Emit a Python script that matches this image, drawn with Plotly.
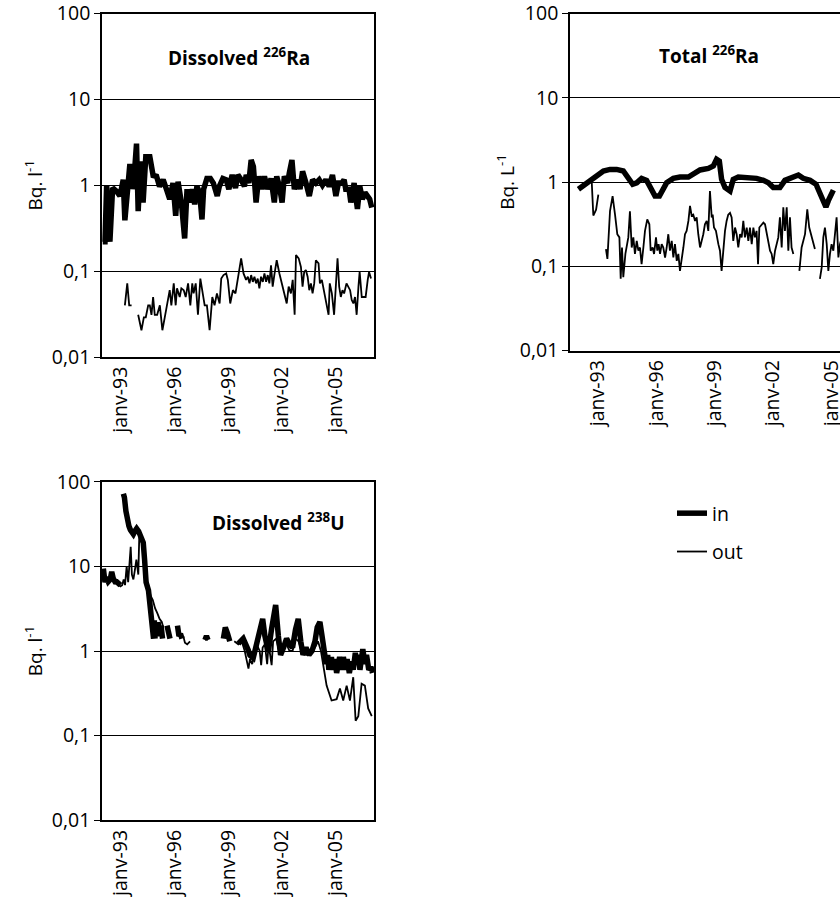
import plotly.graph_objects as go

# ---------------- data (x = months since janv-92) ----------------
TICK_LABELS = ["janv-93", "janv-96", "janv-99", "janv-02", "janv-05"]
LABEL_MONTHS = [12, 48, 84, 120, 156]
Y_TICKS = [0.01, 0.1, 1, 10, 100]
Y_TEXT = ["0,01", "0,1", "1", "10", "100"]

# Dissolved 226Ra
RA_D_IN_M = [0, 1.5, 2.6, 4.8, 6.6, 9.3, 11.5, 12.6, 13.7, 14.8,
             17, 18, 19.5, 20.4, 22.6, 23.7, 25.3, 27, 28.8, 31.5,
             33.7, 36, 38, 40.4, 42.6, 44.8, 47, 48.8, 50.4, 52.6,
             54.8, 56.4, 58.2, 60, 61.5, 63, 64.8, 66.4, 67.5, 69.7,
             72, 74, 76.6, 78, 80.4, 82.6, 84.4, 86.6, 88.8, 90.4,
             92.6, 94.8, 96, 97.7, 99.3, 100.8, 102.6, 104.4, 106.6, 108.2,
             110.4, 112.6, 114.8, 116.4, 118.2, 120, 121.5, 123.7, 124.8, 126.6,
             128.2, 130.4, 132, 133.7, 136, 138.2, 140.4, 142.6, 144.8, 147,
             149.3, 151.5, 153.7, 156, 157.7, 160, 161.5, 162.6, 164.8, 166,
             168.2, 170.4, 172, 173.7, 175.5, 177, 178.6, 180]
RA_D_IN_V = [0.22, 0.22, 1.0, 0.22, 0.93, 0.85, 0.75, 0.97, 1.16, 0.39,
             0.9, 1.65, 1.65, 0.9, 3.05, 0.5, 1.9, 0.63, 2.15, 2.15,
             1.3, 1.27, 0.97, 1.16, 0.9, 0.69, 1.06, 0.44, 1.1, 0.63,
             0.24, 0.9, 0.63, 0.9, 0.6, 0.97, 0.82, 0.4, 0.9, 1.2,
             1.2, 1.06, 0.75, 0.97, 1.2, 1.16, 0.9, 1.32, 0.93, 1.32,
             1.16, 0.97, 1.32, 1.06, 1.97, 1.65, 0.63, 1.27, 0.9, 1.27,
             0.9, 1.2, 0.63, 1.27, 0.97, 0.63, 1.27, 1.06, 1.38, 1.97,
             0.9, 1.16, 0.9, 1.45, 1.06, 0.75, 1.16, 1.06, 1.16, 1.0,
             1.16, 0.97, 1.32, 0.75, 1.06, 1.06, 1.16, 0.9, 0.9, 0.63,
             1.06, 0.53, 0.97, 0.69, 0.82, 0.75, 0.69, 0.55]

RA_D_OUT_M = [14.8, 16.4, 17.7, 19.3, None,
              23.7, 25.9, 27.5, 28.8, 30.4, 31.5, 32.6, 33.7, 34.8, 36.4,
              38.2, 39.9, 41.5, 43.1, 44.8, 45.9, 47.5, 48.8, 49.7, 51.5,
              52.6, 54.2, 55.5, 57.1, 58.6, 59.9, 60.8, 62.2, 63.7, 65.3,
              66.6, 68.2, 69.7, 71.5, 73.3, 74.8, 76.4, 78.2, 79.3, 80.8,
              82.6, 83.7, 85.3, 87.1, 88.8, 90.4, 91.5, 92.6, 94.2, 95.9,
              97.1, 98.2, 99.3, 100.4, 101.5, 102.6, 103.7, 104.8, 105.9, 107.1,
              108.2, 109.3, 110.4, 111.5, 112.6, 113.7, 114.8, 116.4, 118.2, 119.9,
              121.5, 123.1, 124.4, 125.9, 127.1, 128.4, 129.3, 131.1, 132.6, 133.7,
              134.8, 135.9, 137.1, 138.2, 139.3, 140.4, 141.5, 142.6, 144.4, 145.3,
              146.6, 148.2, 149.7, 151.1, 151.9, 153.3, 154.8, 155.9, 157.1, 158.2,
              159.3, 160.4, 161.5, 163.1, 164.4, 165.5, 166.6, 167.7, 168.8, 169.9,
              171.1, 171.9, 173.3, 174.8, 175.9, 177.3, 178.2, 179.5]
RA_D_OUT_V = [0.040, 0.072, 0.040, 0.040, None,
              0.031, 0.0205, 0.029, 0.029, 0.040, 0.040, 0.031, 0.050, 0.031, 0.031,
              0.040, 0.0205, 0.029, 0.040, 0.060, 0.040, 0.072, 0.040, 0.063, 0.050,
              0.063, 0.060, 0.050, 0.072, 0.040, 0.072, 0.055, 0.072, 0.031, 0.082,
              0.060, 0.040, 0.040, 0.0205, 0.050, 0.040, 0.055, 0.042, 0.082, 0.090,
              0.094, 0.079, 0.042, 0.060, 0.055, 0.086, 0.103, 0.141, 0.094, 0.079,
              0.086, 0.072, 0.090, 0.075, 0.086, 0.072, 0.082, 0.063, 0.086, 0.075,
              0.094, 0.075, 0.090, 0.072, 0.117, 0.066, 0.090, 0.134, 0.094, 0.072,
              0.052, 0.042, 0.066, 0.055, 0.079, 0.031, 0.154, 0.141, 0.112, 0.066,
              0.098, 0.103, 0.086, 0.060, 0.072, 0.055, 0.072, 0.134, 0.123, 0.072,
              0.079, 0.055, 0.040, 0.031, 0.072, 0.055, 0.031, 0.072, 0.141, 0.066,
              0.050, 0.060, 0.055, 0.072, 0.066, 0.060, 0.046, 0.042, 0.050, 0.031,
              0.066, 0.098, 0.050, 0.050, 0.050, 0.079, 0.098, 0.082]

# Total 226Ra
RA_T_IN_M = [-0.1, 4.0, 8.1, 11.2, 15.3, 19.4, 23.5, 27.6, 30.7, 33.4,
             35.9, 38.9, 42.0, 45.1, 47.2, 49.9, 52.3, 54.4, 58.5, 62.6,
             67.8, 70.8, 75.0, 80.1, 83.2, 85.2, 86.9, 88.3, 90.4, 93.5,
             95.5, 98.6, 103.8, 109.9, 114.1, 117.2, 120.2, 124.3, 127.4, 131.5,
             135.7, 138.7, 142.9, 146.6, 149.0, 151.1, 152.7, 154.2, 155.6, 157.3]
RA_T_IN_V = [0.82, 0.94, 1.075, 1.23, 1.35, 1.41, 1.41, 1.35, 1.125, 0.94,
             0.98, 1.105, 1.046, 0.82, 0.68, 0.68, 0.82, 0.98, 1.105, 1.146,
             1.146, 1.25, 1.39, 1.45, 1.55, 1.86, 1.77, 1.075, 0.86, 0.78,
             1.075, 1.146, 1.146, 1.105, 1.046, 0.98, 0.86, 0.86, 1.046, 1.125,
             1.21, 1.105, 1.046, 0.94, 0.71, 0.60, 0.505, 0.60, 0.71, 0.80]

RA_T_OUT_M = [8.1, 9.1, 10.8, 12.2, None,
              16.9, 17.8, 19.4, 21.0, 22.5, 23.9, 25.2, 26.0, 26.8, 27.6,
              28.9, 29.7, 30.7, 31.7, 32.8, 33.8, 34.8, 35.9, 36.9, 37.9,
              38.9, 40.0, 41.0, 42.4, 43.7, 44.5, 45.7, 46.6, 47.8, 48.6,
              49.4, 50.3, 51.3, 52.3, 53.4, 54.4, 55.4, 56.4, 57.5, 58.5,
              59.5, 60.6, 61.6, 62.6, 63.6, 64.7, 65.7, 66.7, 67.8, 68.8,
              69.8, 70.8, 71.9, 72.9, 73.9, 75.0, 76.0, 77.0, 78.0, 79.1,
              80.1, 81.1, 82.2, 82.8, 83.6, 84.8, 86.3, 87.3, 88.3, 89.4,
              90.4, 91.4, 92.4, 93.5, 94.5, 95.5, 96.6, 97.6, 98.6, 99.7,
              100.7, 101.7, 102.7, 103.8, 104.8, 105.8, 106.9, 107.9, 108.9, 109.9,
              110.8, 111.6, 113.0, 114.1, 115.1, 116.1, 117.2, 118.2, 119.2, 120.2,
              121.3, 122.3, 123.3, 124.3, 125.4, 126.4, 127.4, 128.5, 129.5, 130.5,
              131.5, 132.6, None,
              136.3, 137.7, 139.8, 141.2, 142.4, 143.9, 144.9, 145.9, None,
              149.0, 150.1, 151.1, 152.1, 153.2, 154.2, 155.2, 156.2, 157.3, 158.3,
              159.3, 160.4, 161.4, 162.5]
RA_T_OUT_V = [1.03, 0.40, 0.47, 0.71, None,
              0.16, 0.122, 0.45, 0.68, 0.41, 0.24, 0.22, 0.071, 0.167, 0.074,
              0.14, 0.167, 0.22, 0.45, 0.167, 0.22, 0.14, 0.20, 0.153, 0.167,
              0.106, 0.167, 0.263, 0.36, 0.315, 0.153, 0.167, 0.14, 0.22, 0.153,
              0.183, 0.14, 0.183, 0.167, 0.127, 0.167, 0.24, 0.153, 0.20, 0.127,
              0.183, 0.116, 0.14, 0.088, 0.116, 0.167, 0.24, 0.263, 0.345, 0.52,
              0.40, 0.41, 0.345, 0.38, 0.24, 0.167, 0.20, 0.24, 0.315, 0.345,
              0.263, 0.78, 0.38, 0.41, 0.288, 0.263, 0.183, 0.153, 0.088, 0.167,
              0.263, 0.345, 0.41, 0.43, 0.38, 0.20, 0.288, 0.24, 0.167, 0.24,
              0.22, 0.345, 0.22, 0.288, 0.20, 0.288, 0.183, 0.288, 0.22, 0.263,
              0.106, 0.288, 0.315, 0.33, 0.315, 0.24, 0.183, 0.153, 0.14, 0.106,
              0.153, 0.183, 0.22, 0.38, 0.167, 0.50, 0.263, 0.50, 0.153, 0.38,
              0.167, 0.14, None,
              0.088, 0.167, 0.24, 0.475, 0.288, 0.22, 0.183, 0.16, None,
              0.071, 0.097, 0.22, 0.288, 0.183, 0.088, 0.14, 0.183, 0.153, 0.263,
              0.38, 0.127, 0.183, 0.22]

# Dissolved 238U
U_IN_M = [0.4, 1.5, 2.5, 3.7, 5, 6, 7, 8.2, 9.3, 10.5, 11.8, None,
          13.8, 14.5, 15.5, 16.5, 17.5, 18.5, 19.4, 20.5, 21.5, 22.7,
          24, 25.5, 27.1, 28, 29, 30.6, 31.5, 32.5, 33.5, 34, 34.5, 35, None,
          37, 38, 39, 40, None,
          43, 44, 45, None,
          50, 51, 52, 53, None,
          68.4, 69.4, 70.4, None,
          80.7, 82, 83.5, 85, None,
          90.7, 94, 97.4, 98.5, 100.7, 103, 105.2, 107, 108.5, 110.8,
          113, 115.7, 117.5, 119, 121, 123, 125, 127, 129, 130.8,
          132.5, 134, 136, 138, 140, 142, 143.5, 145.3, 146.5, 148,
          149.5, 150.5, 151.3, 153, 154, 155.3, 156.5, 158.5, 160, 161,
          162.5, 163.5, 165, 166.5, 167.6, 169, 170, 171, 172.1, 174,
          175.5, 176.5, 178, 179.5, 180.5]
U_IN_V = [9.4, 6.5, 7.5, 6.6, 7.0, 8.6, 7.2, 6.6, 6.6, 6.2, 6.0, None,
          72, 65, 45, 35, 30, 27, 25, 24, 26, 28,
          26, 22, 19, 12, 6.5, 5.2, 3.5, 2.5, 1.8, 1.4, 2.3, 1.4, None,
          2.2, 1.5, 2.0, 1.4, None,
          2.0, 1.5, 1.4, None,
          2.0, 1.5, 1.6, 1.4, None,
          1.35, 1.5, 1.35, None,
          1.4, 1.9, 1.6, 1.3, None,
          1.22, 1.4, 1.02, 0.89, 0.83, 1.25, 1.65, 2.4, 1.5, 0.98,
          1.84, 3.5, 1.5, 0.9, 1.1, 1.4, 1.2, 1.1, 1.8, 2.4,
          1.3, 0.9, 1.1, 0.9, 1.0, 1.3, 1.9, 2.2, 1.6, 1.1,
          0.7, 0.9, 0.6, 0.85, 0.6, 0.8, 0.55, 0.85, 0.6, 0.85,
          0.6, 0.8, 0.55, 0.75, 0.6, 0.95, 0.7, 0.9, 0.6, 1.05,
          0.7, 0.9, 0.6, 0.65, 0.55]

U_OUT_M = [0.4, 1.5, 2.5, 3.7, 5, 6, 7, 8.2, 9.3, 10.5,
           11.8, 13, 14, 14.9, 16, 17, 18.7, 19.5, 20.5, 21.5,
           22.5, 23.8, 24.5, 25.5, 27, 28.5, 29.5, 30.5, 32, 33.5,
           35, 36.5, 38, 39.5, 40.5, None,
           53.9, 55, 56.5, 58.4, None,
           88, 90.7, 93, 95, 96.5, 97.5, 98.5, 100, 101, 103,
           105, 106, 107, 108.5, 110, 111, 113, 114, 116, 118,
           120, 123, 125, 127, 129, 131, 133, 135, 137, 140,
           142, 144, 146, 147.5, 149.8, 153.1, 156.5, 158.7, 160.9, 163.2,
           165.4, 167.6, 169.2, 171, 173.2, 175.4, 177.6, 180]
U_OUT_V = [9.0, 6.8, 7.3, 6.4, 6.9, 8.3, 7.0, 6.3, 6.3, 6.0,
           5.8, 6.0, 7.0, 6.0, 10, 6.5, 17, 8, 7, 9,
           12, 8, 25, 22, 17, 10, 7, 6, 4.5, 4.0,
           3.2, 2.8, 2.4, 2.2, 1.9, None,
           1.5, 1.25, 1.2, 1.3, None,
           1.3, 1.2, 1.3, 1.0, 0.75, 0.62, 0.8, 0.7, 0.85, 1.2,
           1.0, 0.68, 1.1, 1.2, 0.7, 1.2, 0.68, 1.3, 1.4, 1.0,
           1.1, 1.2, 1.0, 1.0, 1.4, 1.3, 1.0, 1.0, 0.9, 1.1,
           1.1, 1.3, 1.0, 0.68, 0.39, 0.26, 0.27, 0.36, 0.26, 0.39,
           0.26, 0.49, 0.15, 0.17, 0.41, 0.39, 0.21, 0.17]

# ---------------- figure ----------------
W, H = 840, 914
FONT = "Open Sans, Noto Sans, Liberation Sans, sans-serif"
IN_W, OUT_W = 5.5, 1.8
TICK_FS = 19.5
TITLE_FS = 19


def px_x(p):
    return p / W


def px_y(p):
    return 1 - p / H


fig = go.Figure()

panels = [
    dict(x="x", y="y", xt="x4", in_m=RA_D_IN_M, in_v=RA_D_IN_V, out_m=RA_D_OUT_M, out_v=RA_D_OUT_V,
         dom_x=[px_x(102), px_x(374)], dom_y=[px_y(357), px_y(13.5)], rng=[-0.5, 181.5], tick0=-0.5, tstep=26,
         ytitle="Bq. l<sup>-1</sup>", mirror_y=True, legend=True, standoff=4),
    dict(x="x2", y="y2", xt="x5", in_m=RA_T_IN_M, in_v=RA_T_IN_V, out_m=RA_T_OUT_M, out_v=RA_T_OUT_V,
         dom_x=[px_x(570), 1.0], dom_y=[px_y(350.5), px_y(13.5)], rng=[-5.3, 161.4], tick0=-5.3, tstep=36,
         ytitle="Bq. L<sup>-1</sup>", mirror_y=False, legend=False, standoff=0),
    dict(x="x3", y="y3", xt="x6", in_m=U_IN_M, in_v=U_IN_V, out_m=U_OUT_M, out_v=U_OUT_V,
         dom_x=[px_x(102), px_x(374)], dom_y=[px_y(820.3), px_y(481.7)], rng=[-0.5, 181.5], tick0=-0.5, tstep=26,
         ytitle="Bq. l<sup>-1</sup>", mirror_y=True, legend=False, standoff=4),
]

layout = {}
for i, p in enumerate(panels):
    fig.add_trace(go.Scatter(x=p["in_m"], y=p["in_v"], mode="lines", xaxis=p["x"], yaxis=p["y"],
                             line=dict(color="black", width=IN_W), name="in",
                             legendgroup="in", showlegend=p["legend"], connectgaps=False))
    fig.add_trace(go.Scatter(x=p["out_m"], y=p["out_v"], mode="lines", xaxis=p["x"], yaxis=p["y"],
                             line=dict(color="black", width=OUT_W), name="out",
                             legendgroup="out", showlegend=p["legend"], connectgaps=False))
    xk = "xaxis" + p["x"][1:]
    yk = "yaxis" + p["y"][1:]
    xtk = "xaxis" + p["xt"][1:]
    n_ticks = int((p["rng"][1] - p["tick0"]) // p["tstep"]) + 1
    tick_pos = [p["tick0"] + k * p["tstep"] for k in range(n_ticks)]
    layout[xk] = dict(domain=p["dom_x"], anchor=p["y"], range=p["rng"], tickmode="array",
                      tickvals=LABEL_MONTHS, ticktext=TICK_LABELS, tickangle=-90, ticks="",
                      showline=True, linecolor="black", linewidth=1.6, mirror=True,
                      showgrid=False, zeroline=False, automargin=False, ticklabeloverflow="allow",
                      tickfont=dict(family=FONT, size=TICK_FS, color="black"))
    layout[xtk] = dict(overlaying=p["x"], anchor=p["y"], side="bottom", range=p["rng"],
                       tickmode="array", tickvals=tick_pos, ticks="outside", ticklen=7,
                       tickwidth=1.4, tickcolor="black", showticklabels=False,
                       showgrid=False, zeroline=False, showline=False, automargin=False)
    layout[yk] = dict(domain=p["dom_y"], anchor=p["x"], type="log", range=[-2, 2],
                      tickmode="array", tickvals=Y_TICKS, ticktext=Y_TEXT,
                      ticks="outside", ticklen=6, tickwidth=1.4, tickcolor="black",
                      showline=True, linecolor="black", linewidth=1.6, mirror=p["mirror_y"],
                      showgrid=True, gridcolor="black", gridwidth=1.2, zeroline=False,
                      automargin=False, ticklabeloverflow="allow",
                      tickfont=dict(family=FONT, size=TICK_FS, color="black"),
                      title=dict(text=p["ytitle"], standoff=p["standoff"],
                                 font=dict(family=FONT, size=19, color="black")))

annotations = [
    dict(text="<b>Dissolved <sup>226</sup>Ra</b>", x=px_x(238.5), y=px_y(57)),
    dict(text="<b>Total <sup>226</sup>Ra</b>", x=px_x(708.5), y=px_y(55)),
    dict(text="<b>Dissolved <sup>238</sup>U</b>", x=px_x(278), y=px_y(522)),
]
for a in annotations:
    a.update(xref="paper", yref="paper", showarrow=False, xanchor="center", yanchor="middle",
             font=dict(family=FONT, size=TITLE_FS, color="black"))

fig.update_layout(
    width=W, height=H,
    margin=dict(l=0, r=0, t=0, b=0, autoexpand=False),
    paper_bgcolor="white", plot_bgcolor="white",
    font=dict(family=FONT, color="black", size=TICK_FS),
    annotations=annotations,
    showlegend=True,
    legend=dict(x=px_x(672), y=px_y(494), xanchor="left", yanchor="top",
                traceorder="grouped", tracegroupgap=10, bgcolor="rgba(0,0,0,0)",
                font=dict(family=FONT, size=TICK_FS, color="black")),
    **layout,
)

fig.write_html("out.html", config={"displayModeBar": False},
               post_script="document.body.style.margin='0';document.body.style.overflow='hidden';")
